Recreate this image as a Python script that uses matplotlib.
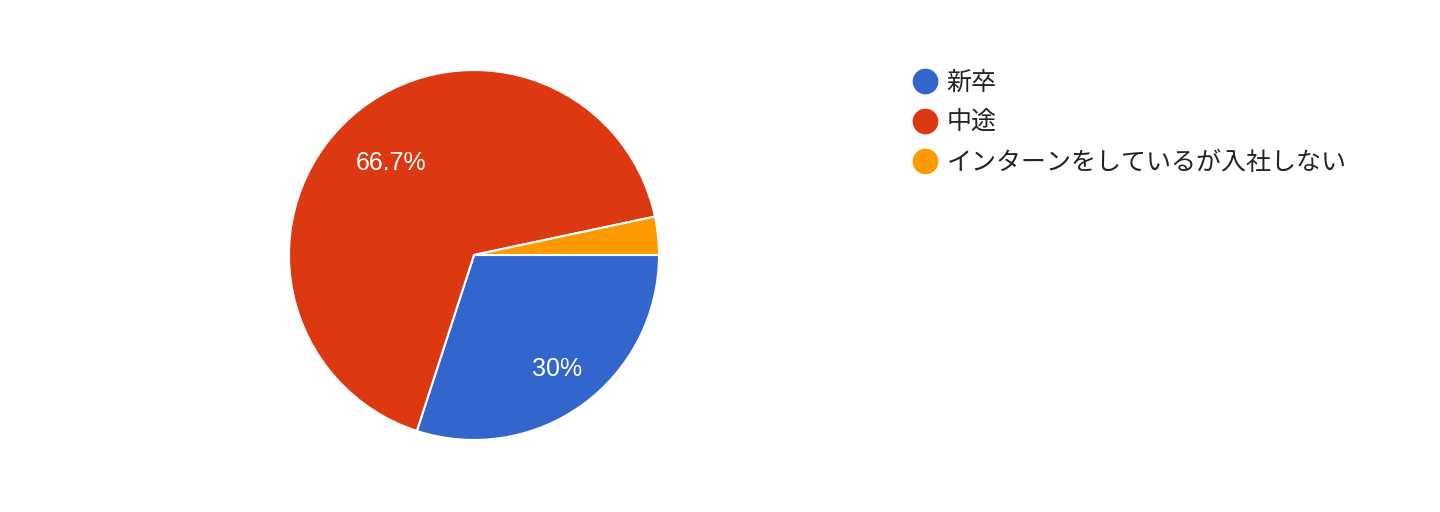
import numpy as np
import matplotlib
matplotlib.use("Agg")
import matplotlib.pyplot as plt
from matplotlib.lines import Line2D

# ---------------------------------------------------------------------------
# Data
# ---------------------------------------------------------------------------
labels = ["新卒", "中途", "インターンをしているが入社しない"]
values = [9, 20, 1]
colors = ["#3366CC", "#DC3912", "#FF9900"]

plt.rcParams["font.family"] = ["Noto Sans CJK JP", "DejaVu Sans"]

W, H = 1440, 512
fig = plt.figure(figsize=(W / 100, H / 100), dpi=100)

# pie centre (474, 255) px, radius 185 px
cx, cy, r = 474, 255, 185
ax = fig.add_axes([(cx - r) / W, (H - cy - r) / H, 2 * r / W, 2 * r / H])


def pct_fmt(p):
    return f"{p:.1f}%".replace(".0%", "%") if p > 5 else ""


wedges, texts, autotexts = ax.pie(
    values, colors=colors, startangle=0, counterclock=False,
    radius=1.0, autopct=pct_fmt, pctdistance=0.72,
    wedgeprops=dict(edgecolor="white", linewidth=1.5),
    textprops=dict(color="white", fontsize=18, family="Liberation Sans"),
)
# nudge the percentage labels to where the original chart puts them
for w, t, d in zip(wedges, autotexts, [0.76, 0.67, 0.7]):
    mid = np.deg2rad((w.theta1 + w.theta2) / 2)
    t.set_position((d * np.cos(mid), d * np.sin(mid)))

ax.set_xlim(-1, 1)
ax.set_ylim(-1, 1)
ax.set_aspect("equal")
ax.axis("off")

# ── legend ───────────────────────────────────────────────────────────────
handles = [Line2D([], [], marker="o", linestyle="none", markersize=17.5,
                  markerfacecolor=c, markeredgecolor=c) for c in colors]
fig.legend(handles, labels, loc="upper left",
           bbox_to_anchor=(912 / W, 1 - 70 / H),
           frameon=False, fontsize=18, handlelength=1.0,
           handletextpad=0.38, labelspacing=0.56, borderpad=0,
           borderaxespad=0, labelcolor="#222222")

fig.savefig("out.png", dpi=100)
